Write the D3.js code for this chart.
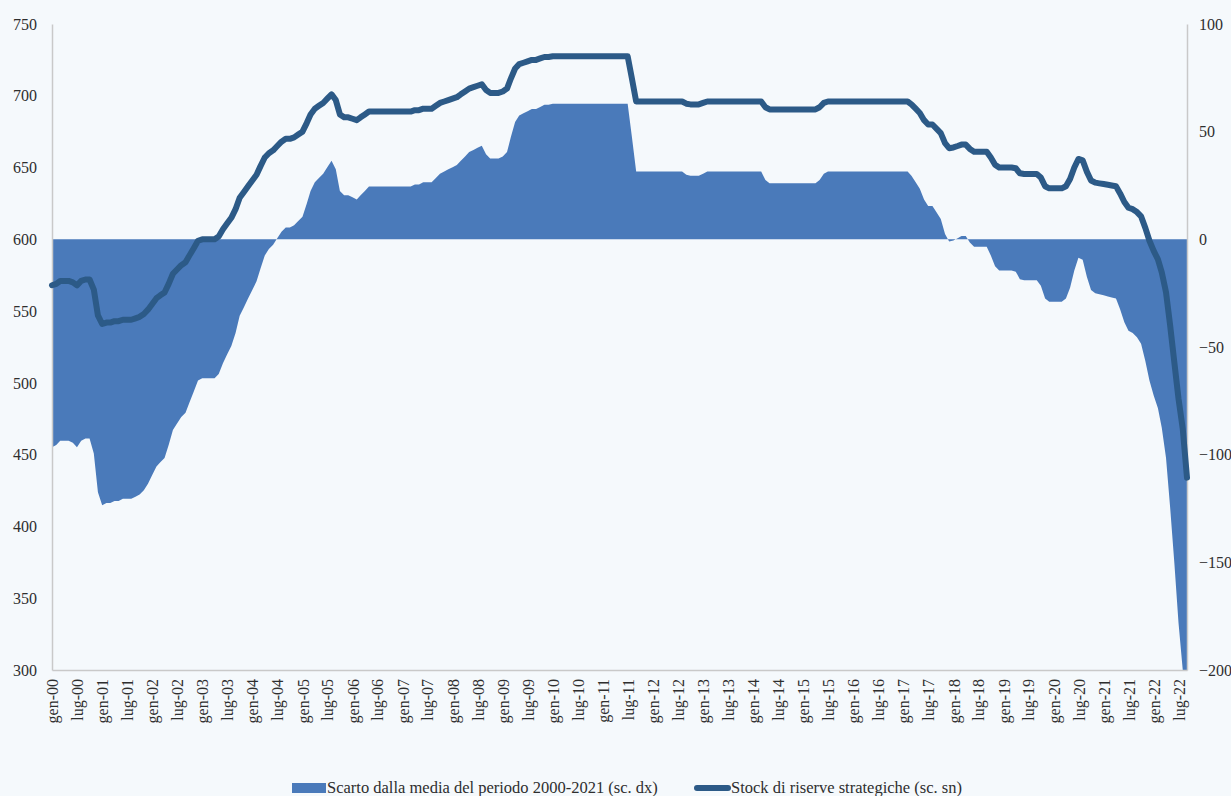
<!DOCTYPE html>
<html>
<head>
<meta charset="utf-8">
<script src="https://cdn.jsdelivr.net/npm/d3@7"></script>
<style>
  body { margin: 0; background: #f5f9fc; }
  #chart text { font-family: "Liberation Serif", "DejaVu Serif", serif; fill: #2e2e2e; }
</style>
</head>
<body>
<div id="chart"></div>
<script>
// months shown on the x axis (Italian abbreviations)
const monthNames = ["gen", "feb", "mar", "apr", "mag", "giu", "lug", "ago", "set", "ott", "nov", "dic"];
const startYear = 2000;

// Stock di riserve strategiche, monthly, gen-00 .. set-22 (left scale)
const stockValues = [
  568, 569, 571, 571, 571, 570, 568, 571, 572, 572, 565, 547,
  541, 542, 542, 543, 543, 544, 544, 544, 545, 546, 548, 551,
  555, 559, 561, 563, 569, 576, 579, 582, 584, 589, 594, 599,
  600, 600, 600, 600, 602, 607, 611, 615, 621, 629, 633, 637,
  641, 645, 651, 657, 660, 662, 665, 668, 670, 670, 671, 673,
  675, 681, 687, 691, 693, 695, 698, 701, 697, 687, 685, 685,
  684, 683, 685, 687, 689, 689, 689, 689, 689, 689, 689, 689,
  689, 689, 689, 690, 690, 691, 691, 691, 693, 695, 696, 697,
  698, 699, 701, 703, 705, 706, 707, 708, 704, 702, 702, 702,
  703, 705, 712, 719, 722, 723, 724, 725, 725, 726, 727, 727,
  727.5, 727.5, 727.5, 727.5, 727.5, 727.5, 727.5, 727.5, 727.5, 727.5, 727.5, 727.5,
  727.5, 727.5, 727.5, 727.5, 727.5, 727.5, 727.5, 712, 696, 696, 696, 696,
  696, 696, 696, 696, 696, 696, 696, 696, 694.5, 694, 694, 694,
  695, 696, 696, 696, 696, 696, 696, 696, 696, 696, 696, 696,
  696, 696, 696, 692, 690.5, 690.5, 690.5, 690.5, 690.5, 690.5, 690.5, 690.5,
  690.5, 690.5, 690.5, 690.5, 692, 695, 696, 696, 696, 696, 696, 696,
  696, 696, 696, 696, 696, 696, 696, 696, 696, 696, 696, 696,
  696, 696, 694, 691, 688, 683, 680, 680, 677, 674, 667, 663.5,
  664, 665, 666, 666, 663, 661, 661, 661, 661, 657, 652, 650,
  650, 650, 650, 649.5, 646, 645.5, 645.5, 645.5, 645.5, 643, 637, 635.5,
  635.5, 635.5, 635.5, 637, 642, 650, 656, 655, 647, 641, 639.5, 639,
  638.5, 638, 637.5, 637, 632, 626, 622, 621, 619, 616, 608, 599,
  592, 586, 577, 563, 540, 514, 489, 468, 434
];

// Scarto dalla media del periodo 2000-2021, monthly (right scale)
const deviationValues = [
  -96.5, -95.5, -93.5, -93.5, -93.5, -94.5, -96.5, -93.5, -92.5, -92.5, -99.5, -117.5,
  -123.5, -122.5, -122.5, -121.5, -121.5, -120.5, -120.5, -120.5, -119.5, -118.5, -116.5, -113.5,
  -109.5, -105.5, -103.5, -101.5, -95.5, -88.5, -85.5, -82.5, -80.5, -75.5, -70.5, -65.5,
  -64.5, -64.5, -64.5, -64.5, -62.5, -57.5, -53.5, -49.5, -43.5, -35.5, -31.5, -27.5,
  -23.5, -19.5, -13.5, -7.5, -4.5, -2.5, 0.5, 3.5, 5.5, 5.5, 6.5, 8.5,
  10.5, 16.5, 22.5, 26.5, 28.5, 30.5, 33.5, 36.5, 32.5, 22.5, 20.5, 20.5,
  19.5, 18.5, 20.5, 22.5, 24.5, 24.5, 24.5, 24.5, 24.5, 24.5, 24.5, 24.5,
  24.5, 24.5, 24.5, 25.5, 25.5, 26.5, 26.5, 26.5, 28.5, 30.5, 31.5, 32.5,
  33.5, 34.5, 36.5, 38.5, 40.5, 41.5, 42.5, 43.5, 39.5, 37.5, 37.5, 37.5,
  38.5, 40.5, 47.5, 54.5, 57.5, 58.5, 59.5, 60.5, 60.5, 61.5, 62.5, 62.5,
  63, 63, 63, 63, 63, 63, 63, 63, 63, 63, 63, 63,
  63, 63, 63, 63, 63, 63, 63, 47.5, 31.5, 31.5, 31.5, 31.5,
  31.5, 31.5, 31.5, 31.5, 31.5, 31.5, 31.5, 31.5, 30, 29.5, 29.5, 29.5,
  30.5, 31.5, 31.5, 31.5, 31.5, 31.5, 31.5, 31.5, 31.5, 31.5, 31.5, 31.5,
  31.5, 31.5, 31.5, 27.5, 26, 26, 26, 26, 26, 26, 26, 26,
  26, 26, 26, 26, 27.5, 30.5, 31.5, 31.5, 31.5, 31.5, 31.5, 31.5,
  31.5, 31.5, 31.5, 31.5, 31.5, 31.5, 31.5, 31.5, 31.5, 31.5, 31.5, 31.5,
  31.5, 31.5, 29.5, 26.5, 23.5, 18.5, 15.5, 15.5, 12.5, 9.5, 2.5, -1,
  -0.5, 0.5, 1.5, 1.5, -1.5, -3.5, -3.5, -3.5, -3.5, -7.5, -12.5, -14.5,
  -14.5, -14.5, -14.5, -15, -18.5, -19, -19, -19, -19, -21.5, -27.5, -29,
  -29, -29, -29, -27.5, -22.5, -14.5, -8.5, -9.5, -17.5, -23.5, -25, -25.5,
  -26, -26.5, -27, -27.5, -32.5, -38.5, -42.5, -43.5, -45.5, -48.5, -56.5, -65.5,
  -72.5, -78.5, -87.5, -101.5, -124.5, -150.5, -178, -200, -230.5
];

const leftTicks = [300, 350, 400, 450, 500, 550, 600, 650, 700, 750];
const rightTicks = [-200, -150, -100, -50, 0, 50, 100];
const seriesNames = ["Scarto dalla media del periodo 2000-2021 (sc. dx)", "Stock di riserve strategiche (sc. sn)"];

const areaColor = "#4a7aba";
const lineColor = "#2c5a87";
const axisColor = "#c9c9c9";

const width = 1231, height = 796;
const plot = {left: 52, right: 1187, top: 24, bottom: 670};

const data = stockValues.map((v, i) => ({
  date: new Date(startYear, i, 1),
  stock: v,
  dev: deviationValues[i]
}));

const svg = d3.select("#chart")
  .append("svg")
  .attr("width", width)
  .attr("height", height);

const x = d3.scaleTime()
  .domain([data[0].date, data[data.length - 1].date])
  .range([plot.left, plot.right]);

const yLeft = d3.scaleLinear().domain([300, 750]).range([plot.bottom, plot.top]);
const yRight = d3.scaleLinear().domain([-200, 100]).range([plot.bottom, plot.top]);

svg.append("clipPath").attr("id", "plot-clip")
  .append("rect")
  .attr("x", plot.left).attr("y", plot.top)
  .attr("width", plot.right - plot.left)
  .attr("height", plot.bottom - plot.top);

// area (right scale)
const area = d3.area()
  .x(d => x(d.date))
  .y0(yRight(0))
  .y1(d => yRight(d.dev));

svg.append("path")
  .datum(data)
  .attr("clip-path", "url(#plot-clip)")
  .attr("fill", areaColor)
  .attr("d", area);

// axes
const leftAxis = svg.append("g")
  .attr("transform", `translate(${plot.left},0)`)
  .call(d3.axisLeft(yLeft).tickValues(leftTicks).tickSize(0).tickPadding(15));

const rightAxis = svg.append("g")
  .attr("transform", `translate(${plot.right},0)`)
  .call(d3.axisRight(yRight).tickValues(rightTicks).tickSize(0).tickPadding(12));

const xTicks = d3.timeMonth.every(6).range(data[0].date, d3.timeDay.offset(data[data.length - 1].date, 1));
const fmtMonth = d => monthNames[d.getMonth()] + "-" + String(d.getFullYear() % 100).padStart(2, "0");

const bottomAxis = svg.append("g")
  .attr("transform", `translate(0,${plot.bottom})`)
  .call(d3.axisBottom(x).tickValues(xTicks).tickFormat(fmtMonth).tickSize(0));

bottomAxis.selectAll("text")
  .attr("transform", "rotate(-90)")
  .attr("x", -9)
  .attr("y", 0)
  .attr("dy", "0.35em")
  .style("text-anchor", "end");

[leftAxis, rightAxis, bottomAxis].forEach(g => {
  g.select(".domain").attr("stroke", axisColor).attr("stroke-width", 1.5);
  g.selectAll("text").style("font-size", "16px");
});

// line (left scale)
const line = d3.line()
  .x(d => x(d.date))
  .y(d => yLeft(d.stock));

svg.append("path")
  .datum(data)
  .attr("fill", "none")
  .attr("stroke", lineColor)
  .attr("stroke-width", 6)
  .attr("stroke-linejoin", "round")
  .attr("stroke-linecap", "round")
  .attr("d", line);

// legend
const legend = svg.append("g").style("font-size", "16.5px");
legend.append("rect")
  .attr("x", 292).attr("y", 783)
  .attr("width", 34).attr("height", 10)
  .attr("fill", areaColor);
legend.append("text")
  .attr("x", 327).attr("y", 793)
  .text(seriesNames[0]);
legend.append("line")
  .attr("x1", 697).attr("x2", 728)
  .attr("y1", 788).attr("y2", 788)
  .attr("stroke", lineColor)
  .attr("stroke-width", 6)
  .attr("stroke-linecap", "round");
legend.append("text")
  .attr("x", 731).attr("y", 793)
  .text(seriesNames[1]);
</script>
</body>
</html>
